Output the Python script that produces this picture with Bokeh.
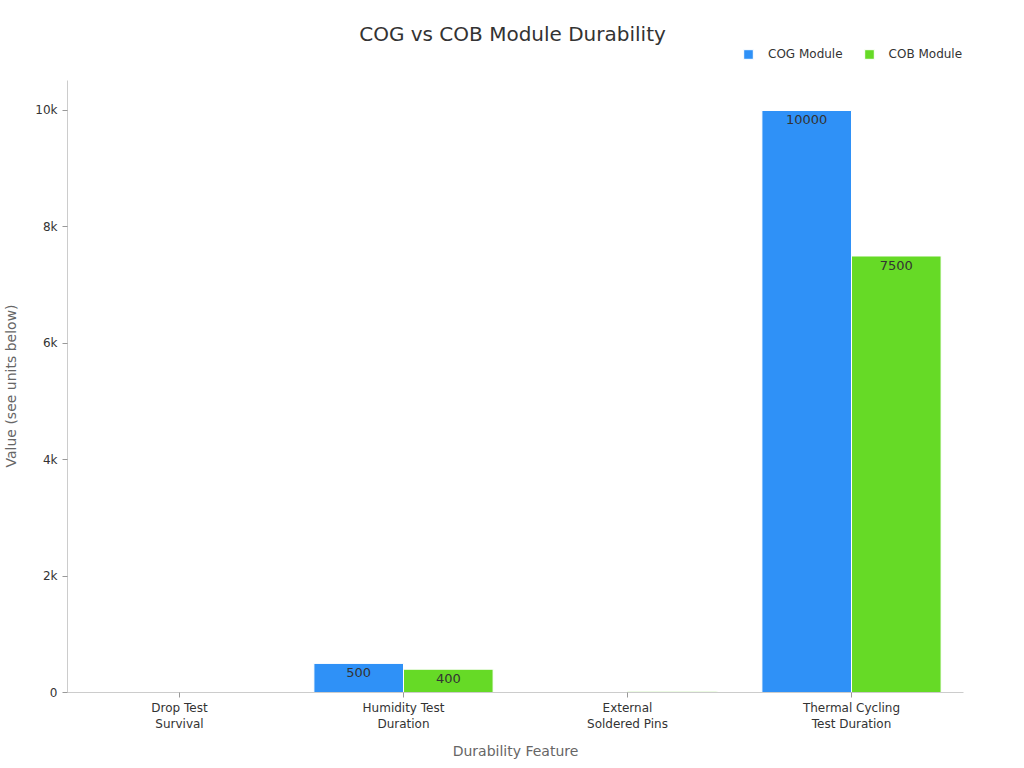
from bokeh.plotting import figure
from bokeh.models import (ColumnDataSource, Range1d, Legend, LegendItem,
                          FixedTicker, LabelSet, LinearAxis, Label, Title)
from bokeh.core.properties import value
from bokeh.transform import dodge
from bokeh.embed import file_html
from bokeh.resources import INLINE

# Durability comparison data
features = ["Drop Test Survival", "Humidity Test Duration",
            "External Soldered Pins", "Thermal Cycling Test Duration"]
label_line1 = ["Drop Test", "Humidity Test", "External", "Thermal Cycling"]
label_line2 = ["Survival", "Duration", "Soldered Pins", "Test Duration"]
cog_values = [0, 500, 0, 10000]
cob_values = [0, 400, 20, 7500]
series_names = ["COG Module", "COB Module"]
y_ticks = [0, 2000, 4000, 6000, 8000, 10000]
y_tick_labels = ["0", "2k", "4k", "6k", "8k", "10k"]

FONT = "DejaVu Sans"
BLUE = "#2F91F7"
GREEN = "#66DA26"

# category slots centred at 0.5, 1.5, ...
slots = [i + 0.5 for i in range(len(features))]

src = ColumnDataSource(dict(
    slot=slots,
    cog=cog_values,
    cob=cob_values,
    cog_label=[str(v) if v >= 100 else "" for v in cog_values],
    cob_label=[str(v) if v >= 100 else "" for v in cob_values],
))

# the frame reaches the top of the canvas so the header (title + legend)
# can live inside it; the value axis itself stops at 10520
Y_AXIS_TOP = 10520
Y_VIEW_TOP = 11890

p = figure(frame_width=896, frame_height=692, output_backend="svg",
           toolbar_location=None,
           x_range=Range1d(0, len(features)), y_range=Range1d(0, Y_VIEW_TOP),
           x_axis_location=None,
           min_border_left=67, min_border_right=61, min_border_top=0,
           min_border_bottom=0)

w = 0.4
r_cog = p.vbar(x=dodge("slot", -0.2), top="cog", width=w, source=src,
               fill_color=BLUE, line_color="white", line_width=1)
r_cob = p.vbar(x=dodge("slot", 0.2), top="cob", width=w, source=src,
               fill_color=GREEN, line_color="white", line_width=1)

for field, lab, off in (("cog", "cog_label", -0.2), ("cob", "cob_label", 0.2)):
    ls = LabelSet(x=dodge("slot", off), y=field, text=lab, source=src,
                  text_align="center", text_baseline="top", y_offset=-5,
                  text_font_size=value("13px"), text_color="#333333",
                  text_font=value(FONT))
    p.add_layout(ls)

title = Label(x=445, y=659, x_units="screen", y_units="screen",
              text="COG vs COB Module Durability", text_align="center",
              text_baseline="middle", text_font=FONT, text_font_size="20px",
              text_color="#333333")
p.add_layout(title)

legend = Legend(items=[LegendItem(label=series_names[0], renderers=[r_cog]),
                       LegendItem(label=series_names[1], renderers=[r_cob])],
                orientation="horizontal", location=(675, 631),
                label_text_font=FONT, label_text_font_size="12px",
                label_text_color="#333333", glyph_width=12, glyph_height=12,
                label_height=12, spacing=20, label_standoff=14,
                border_line_color=None, background_fill_alpha=0,
                padding=4, margin=0)
p.add_layout(legend)

p.xgrid.visible = False
p.ygrid.visible = False
p.outline_line_color = None

# y axis (a blank, tiny axis label only reserves a little room on its left)
p.yaxis.bounds = (0, Y_AXIS_TOP)
p.yaxis.ticker = FixedTicker(ticks=y_ticks)
p.yaxis.major_label_overrides = {t: s for t, s in zip(y_ticks, y_tick_labels)}
p.yaxis.minor_tick_line_color = None
p.yaxis.axis_line_color = "#cccccc"
p.yaxis.major_tick_line_color = "#999999"
p.yaxis.major_tick_out = 5
p.yaxis.major_tick_in = 0
p.yaxis.major_label_text_font = FONT
p.yaxis.major_label_text_font_size = "12px"
p.yaxis.major_label_text_color = "#333333"
p.yaxis.axis_label = " "
p.yaxis.axis_label_text_font_size = "1px"
p.yaxis.axis_label_standoff = 9

# value-axis caption, centred on the drawn part of the axis
y_caption = Title(text="Value (see units below)", align="left", offset=225,
                  text_font=FONT, text_font_size="14px",
                  text_font_style="normal", text_color="#666666",
                  standoff=1)
p.add_layout(y_caption, "left")

# x axis: two stacked axes carry the two lines of each category name
x_top = LinearAxis(ticker=FixedTicker(ticks=slots),
                   major_label_overrides={s: t for s, t in zip(slots, label_line1)})
x_bot = LinearAxis(ticker=FixedTicker(ticks=slots),
                   major_label_overrides={s: t for s, t in zip(slots, label_line2)},
                   axis_label="Durability Feature")
for ax in (x_top, x_bot):
    ax.minor_tick_line_color = None
    ax.major_tick_in = 0
    ax.major_label_text_font = FONT
    ax.major_label_text_font_size = "12px"
    ax.major_label_text_color = "#333333"
    ax.axis_label_text_font = FONT
    ax.axis_label_text_font_size = "14px"
    ax.axis_label_text_font_style = "normal"
    ax.axis_label_text_color = "#666666"
x_top.axis_line_color = "#cccccc"
x_top.major_tick_line_color = "#999999"
x_top.major_tick_out = 5
x_top.major_label_standoff = 3
x_bot.axis_line_color = None
x_bot.major_tick_line_color = None
x_bot.major_tick_out = 0
x_bot.major_label_standoff = -1
x_bot.axis_label_standoff = 9
p.add_layout(x_top, "below")
p.add_layout(x_bot, "below")

open("out.html", "w").write(file_html(p, INLINE))
